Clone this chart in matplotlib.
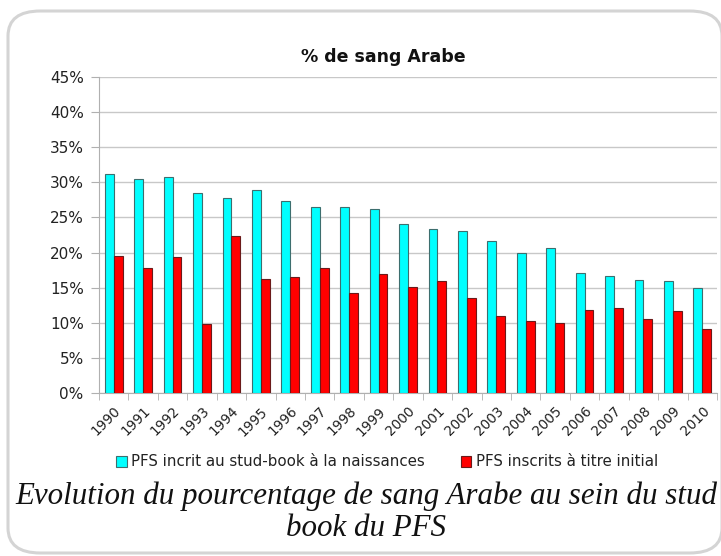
import matplotlib
matplotlib.use("Agg")
import matplotlib.pyplot as plt
import numpy as np
from matplotlib.patches import FancyBboxPatch
from matplotlib.ticker import FuncFormatter, MultipleLocator

years = [str(y) for y in range(1990, 2011)]
naissance = [31.2, 30.5, 30.7, 28.5, 27.7, 28.9, 27.3, 26.5, 26.5, 26.2, 24.0,
             23.4, 23.1, 21.6, 19.9, 20.7, 17.1, 16.6, 16.1, 15.9, 14.9]
initial = [19.5, 17.8, 19.3, 9.8, 22.3, 16.3, 16.5, 17.8, 14.3, 17.0, 15.1,
           16.0, 13.5, 10.9, 10.2, 9.9, 11.8, 12.1, 10.6, 11.7, 9.1]
series_names = ["PFS incrit au stud-book à la naissances", "PFS inscrits à titre initial"]

W, H = 721, 556
fig = plt.figure(figsize=(W / 100, H / 100), dpi=100)

# rounded frame
box = FancyBboxPatch((8 / W, (H - 553) / H), (722 - 8) / W, (553 - 11) / H,
                     boxstyle="round,pad=0,rounding_size=0.045",
                     transform=fig.transFigure, facecolor="none",
                     edgecolor="#d4d4d4", linewidth=2.2, zorder=-1)
fig.patches.append(box)

ax = fig.add_axes([99 / W, (H - 393) / H, (717 - 99) / W, (393 - 77) / H])
ax.set_facecolor("none")
x = np.arange(len(years))
w = 0.3
ax.bar(x - w / 2, naissance, width=w, color="#00FFFF", edgecolor="#3d6e6e",
       linewidth=0.8, label=series_names[0], zorder=3)
ax.bar(x + w / 2, initial, width=w, color="#FF0000", edgecolor="#6b1a1a",
       linewidth=0.8, label=series_names[1], zorder=3)

ax.set_xlim(-0.5, len(years) - 0.5)
ax.set_ylim(0, 45)
ax.yaxis.set_major_locator(MultipleLocator(5))
ax.yaxis.set_major_formatter(FuncFormatter(lambda v, p: f"{int(v)}%"))
ax.grid(axis="y", color="#c8c8c8", linewidth=1.0, zorder=0)
ax.set_axisbelow(True)
for s in ["top", "right"]:
    ax.spines[s].set_visible(False)
ax.spines["left"].set_color("#b0b0b0")
ax.spines["bottom"].set_color("#b0b0b0")

ax.set_xticks(x)
ax.set_xticklabels(years, rotation=45, ha="right", rotation_mode="anchor",
                   fontsize=9.8, color="#222222")
ax.tick_params(axis="x", length=0, pad=8)
ax.set_xticks(np.arange(-0.5, len(years), 1), minor=True)
ax.tick_params(axis="x", which="minor", length=5, color="#b0b0b0")
ax.tick_params(axis="y", length=6, color="#b0b0b0", labelsize=11,
               labelcolor="#222222", pad=5)

fig.text(383 / W, 1 - 57 / H, "% de sang Arabe", ha="center", va="center",
         fontsize=12.5, fontweight="bold", color="#111111")

leg = fig.legend(loc="center", bbox_to_anchor=(387 / W, 1 - 462 / H), ncol=2,
                 frameon=False, fontsize=10.8, handlelength=0.7, handleheight=0.7,
                 handletextpad=0.3, columnspacing=2.4, labelcolor="#222222")

fig.text(366 / W, 1 - 496 / H,
         "Evolution du pourcentage de sang Arabe au sein du stud",
         ha="center", va="center", fontsize=22.3, style="italic",
         family="Liberation Serif", color="#111111")
fig.text(366 / W, 1 - 529 / H, "book du PFS", ha="center", va="center",
         fontsize=22.3, style="italic", family="Liberation Serif", color="#111111")

fig.savefig("out.png", dpi=100)
